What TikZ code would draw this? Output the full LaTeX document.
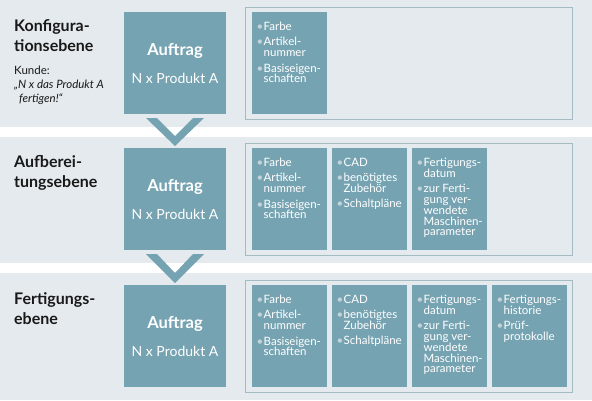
\documentclass[tikz,border=0pt]{standalone}
\usepackage{fontspec}
\setmainfont{Lato}
\usepackage{tikz}
\usetikzlibrary{positioning}
\usetikzlibrary{calc}
\definecolor{boxblue}{RGB}{118,163,178}
\definecolor{bandgrey}{RGB}{228,234,237}
\definecolor{framegrey}{RGB}{165,187,194}
\definecolor{darktext}{RGB}{25,25,25}
\definecolor{bulletgrey}{RGB}{196,212,218}
\newcommand{\itembul}{\makebox[7pt][l]{\textcolor{bulletgrey}{\textbullet}}}
\newcommand{\itemind}{\hspace*{7pt}}

\begin{document}
\begin{tikzpicture}[x=1pt,y=-1pt,node distance=34pt,
  order node/.style={rectangle,fill=boxblue,minimum width=102pt,minimum height=102pt,
    inner sep=0pt,outer sep=0pt,align=center,text=white,font=\fontsize{14}{16}\selectfont},
  frame node/.style={rectangle,draw=framegrey,line width=0.8pt,minimum width=327pt,
    minimum height=112pt,outer sep=0pt},
  info node/.style={rectangle,fill=boxblue,minimum width=75pt,minimum height=102pt,outer sep=0pt},
  info text/.style={anchor=north west,inner sep=0pt,align=left,text=white,
    font=\fontsize{11.5}{10.8}\selectfont},
  level node/.style={anchor=north west,inner sep=0pt,align=left,text=darktext,
    font=\fontsize{16}{20}\selectfont\bfseries},
  customer node/.style={anchor=north west,inner sep=0pt,align=left,text=darktext,
    font=\fontsize{11.5}{14}\selectfont},
  chevron/.style={fill=boxblue}]

  \useasboundingbox (0,0) rectangle (592,400);
  \fill[bandgrey] (0,0) rectangle (592,127);
  \fill[bandgrey] (0,137) rectangle (592,263);
  \fill[bandgrey] (0,273) rectangle (592,400);

  % order boxes
  \node[order node] (a1) at (175,63) {{\fontsize{16.5}{18}\selectfont\bfseries Auftrag}\\[12pt]N x Produkt A};
  \node[order node] (a2) [below=34pt of a1] {{\fontsize{16.5}{18}\selectfont\bfseries Auftrag}\\[12pt]N x Produkt A};
  \node[order node] (a3) [below=35pt of a2] {{\fontsize{16.5}{18}\selectfont\bfseries Auftrag}\\[12pt]N x Produkt A};

  % frames
  \node[frame node] (f1) [right=19pt of a1] {};
  \node[frame node] (f2) [right=19pt of a2] {};
  \node[frame node] (f3) [right=19pt of a3] {};

  % info boxes
  \node[info node] (i11) [right=26pt of a1] {};
  \node[info node] (i21) [right=26pt of a2] {};
  \node[info node] (i22) [right=5pt of i21] {};
  \node[info node] (i23) [right=5pt of i22] {};
  \node[info node] (i31) [right=26pt of a3] {};
  \node[info node] (i32) [right=5pt of i31] {};
  \node[info node] (i33) [right=5pt of i32] {};
  \node[info node] (i34) [right=5pt of i33] {};

  \node[info text] (t11) at ($(i11.north west)+(4.5,10)$)
    {\itembul Farbe\\[4.5pt]\itembul Artikel-\\\itemind nummer\\[4.5pt]\itembul Basiseigen-\\\itemind schaften};
  \node[info text] (t21) at ($(i21.north west)+(4.5,10)$)
    {\itembul Farbe\\[4.5pt]\itembul Artikel-\\\itemind nummer\\[4.5pt]\itembul Basiseigen-\\\itemind schaften};
  \node[info text] (t22) at ($(i22.north west)+(4.5,10)$)
    {\itembul CAD\\[4.5pt]\itembul benötigtes\\\itemind Zubehör\\[4.5pt]\itembul Schaltpläne};
  \node[info text] (t23) at ($(i23.north west)+(4.5,10)$)
    {\itembul Fertigungs-\\\itemind datum\\[4.5pt]\itembul zur Ferti-\\\itemind gung ver-\\\itemind wendete\\\itemind Maschinen-\\\itemind parameter};
  \node[info text] (t31) at ($(i31.north west)+(4.5,10)$)
    {\itembul Farbe\\[4.5pt]\itembul Artikel-\\\itemind nummer\\[4.5pt]\itembul Basiseigen-\\\itemind schaften};
  \node[info text] (t32) at ($(i32.north west)+(4.5,10)$)
    {\itembul CAD\\[4.5pt]\itembul benötigtes\\\itemind Zubehör\\[4.5pt]\itembul Schaltpläne};
  \node[info text] (t33) at ($(i33.north west)+(4.5,10)$)
    {\itembul Fertigungs-\\\itemind datum\\[4.5pt]\itembul zur Ferti-\\\itemind gung ver-\\\itemind wendete\\\itemind Maschinen-\\\itemind parameter};
  \node[info text] (t34) at ($(i34.north west)+(4.5,10)$)
    {\itembul Fertigungs-\\\itemind historie\\[4.5pt]\itembul Prüf-\\\itemind protokolle};

  % level labels
  \node[level node] (l1) at ($(a1.north west)+(-110,7.5)$) {Konfigura-\\tionsebene};
  \node[customer node] (c1) at ($(l1.south west)+(0,14)$)
    {Kunde:\\\textit{„N x das Produkt A}\\\textit{\hspace*{5pt}fertigen!“}};
  \node[level node] (l2) at ($(a2.north west)+(-110,7.5)$) {Aufberei-\\tungsebene};
  \node[level node] (l3) at ($(a3.north west)+(-110,7.5)$) {Fertigungs-\\ebene};

  % chevrons
  \foreach \u/\l in {a1/a2,a2/a3}
    \fill[chevron] ($(\u.south)+(-29,4)$) -- ($(\l.north)+(0,-2)$) -- ($(\u.south)+(29,4)$)
      -- ($(\u.south)+(18,4)$) -- ($(\l.north)+(0,-12)$) -- ($(\u.south)+(-18,4)$) -- cycle;
\end{tikzpicture}
\end{document}
